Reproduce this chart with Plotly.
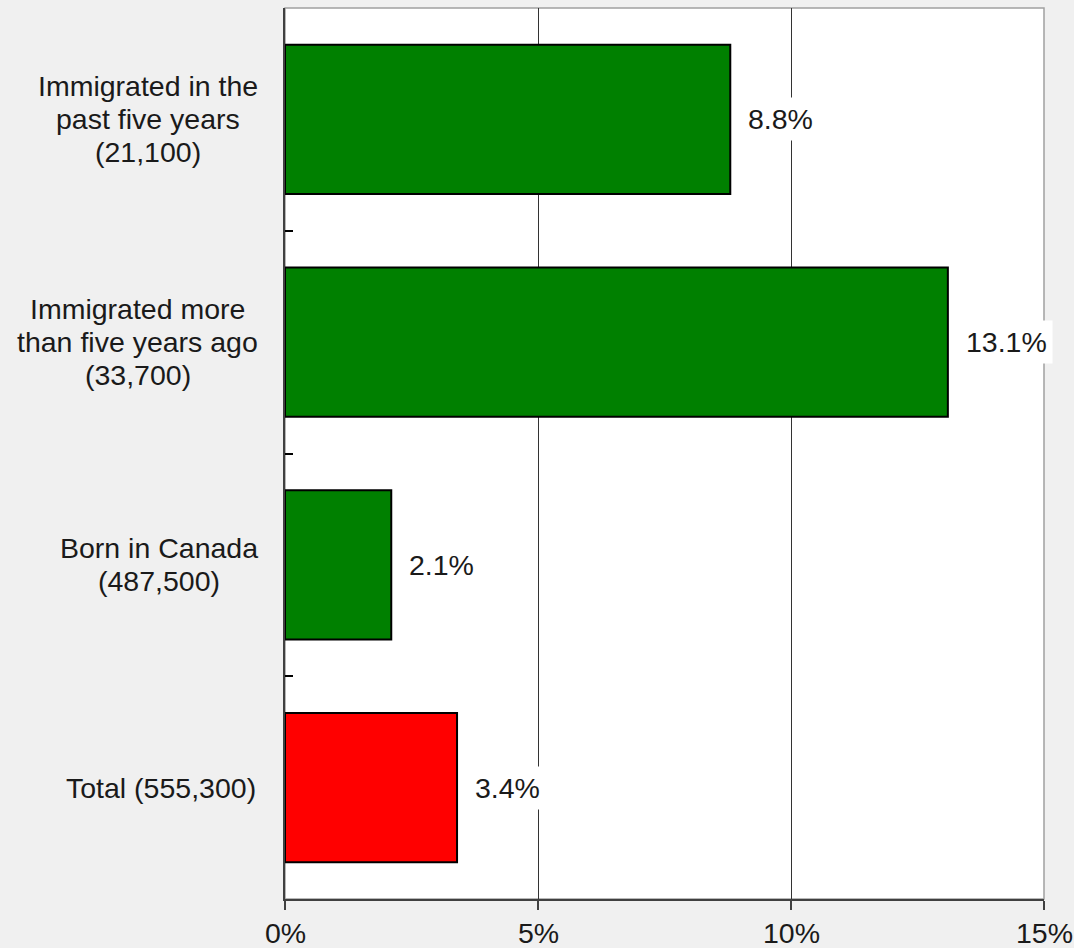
import plotly.graph_objects as go

# Categories (top to bottom) and their percentages
categories = [
    "Immigrated in the<br>past five years<br>(21,100)",
    "Immigrated more<br>than five years ago<br>(33,700)",
    "Born in Canada<br>(487,500)",
    "Total (555,300)",
]
values = [8.8, 13.1, 2.1, 3.4]
bar_colors = ["#008000", "#008000", "#008000", "#ff0000"]
x_ticks = [0, 5, 10, 15]
x_tick_labels = ["0%", "5%", "10%", "15%"]

FONT = "Liberation Sans, Arial, sans-serif"
FSIZE = 28.5
LINE_H = 33
TXT = "#1a1a1a"

# Arial / Liberation Sans advance widths (per 1000 em) for label layout
ADV = {" ": 278, "(": 333, ")": 333, ",": 278, "B": 667, "C": 722, "I": 278,
       "T": 611, "a": 556, "d": 556, "e": 556, "f": 278, "g": 556, "h": 556,
       "i": 222, "l": 222, "m": 833, "n": 556, "o": 556, "p": 556, "r": 333,
       "s": 500, "t": 278, "v": 500, "y": 500}


def text_width(s, size):
    return sum(ADV.get(c, 556) for c in s) * size / 1000.0


fig = go.Figure(
    go.Bar(
        y=categories,
        x=values,
        orientation="h",
        width=0.67,
        marker=dict(color=bar_colors, line=dict(color="#000000", width=2)),
        hoverinfo="skip",
    )
)

# Value labels to the right of each bar, on a white box
for cat, v in zip(categories, values):
    fig.add_annotation(
        x=v, y=cat, xref="x", yref="y",
        text=f"{v:.1f}%", showarrow=False,
        xanchor="left", yanchor="middle", xshift=12,
        bgcolor="#ffffff", borderpad=5,
        font=dict(family=FONT, size=FSIZE, color=TXT),
    )

# Category labels: each line centred within its block, block right edge
# a fixed gap left of the axis
GAP = 27
for cat in categories:
    lines = cat.split("<br>")
    n = len(lines)
    block_w = max(text_width(s, FSIZE) for s in lines)
    for i, line in enumerate(lines):
        fig.add_annotation(
            x=0, y=cat, xref="paper", yref="y",
            text=line, showarrow=False,
            xanchor="center", yanchor="middle",
            xshift=-GAP - block_w / 2,
            yshift=((n - 1) / 2 - i) * LINE_H,
            font=dict(family=FONT, size=FSIZE, color=TXT),
        )

# Percentage labels under the x-axis ticks
for xv, lab in zip(x_ticks, x_tick_labels):
    fig.add_annotation(
        x=xv, y=0, xref="x", yref="paper",
        text=lab, showarrow=False,
        xanchor="center", yanchor="middle", yshift=-34,
        font=dict(family=FONT, size=FSIZE, color=TXT),
    )

fig.update_layout(
    width=1074, height=948,
    margin=dict(l=285, r=30, t=8, b=49, autoexpand=False),
    paper_bgcolor="#f0f0f0",
    plot_bgcolor="#ffffff",
    showlegend=False,
    bargap=0.33,
    font=dict(family=FONT, size=FSIZE, color=TXT),
    xaxis=dict(
        range=[0, 15],
        tickvals=x_ticks,
        showticklabels=False,
        showgrid=True, gridcolor="#333333", gridwidth=1,
        zeroline=False,
        showline=True, linecolor="#404040", linewidth=2,
        ticks="outside", ticklen=9, tickcolor="#404040", tickwidth=1.5,
        automargin=False,
        fixedrange=True,
    ),
    yaxis=dict(
        categoryorder="array", categoryarray=categories,
        autorange="reversed",
        showticklabels=False,
        showgrid=False, zeroline=False,
        showline=True, linecolor="#404040", linewidth=2,
        ticks="inside", tickson="boundaries", ticklen=8,
        tickcolor="#000000", tickwidth=1.5,
        automargin=False,
        fixedrange=True,
    ),
)

# Light frame along the top and right of the plot area
fig.add_shape(
    type="rect", xref="paper", yref="paper", x0=0, x1=1, y0=0, y1=1,
    line=dict(color="#a0a0a0", width=1.5), layer="below",
)

fig.write_html("out.html")
